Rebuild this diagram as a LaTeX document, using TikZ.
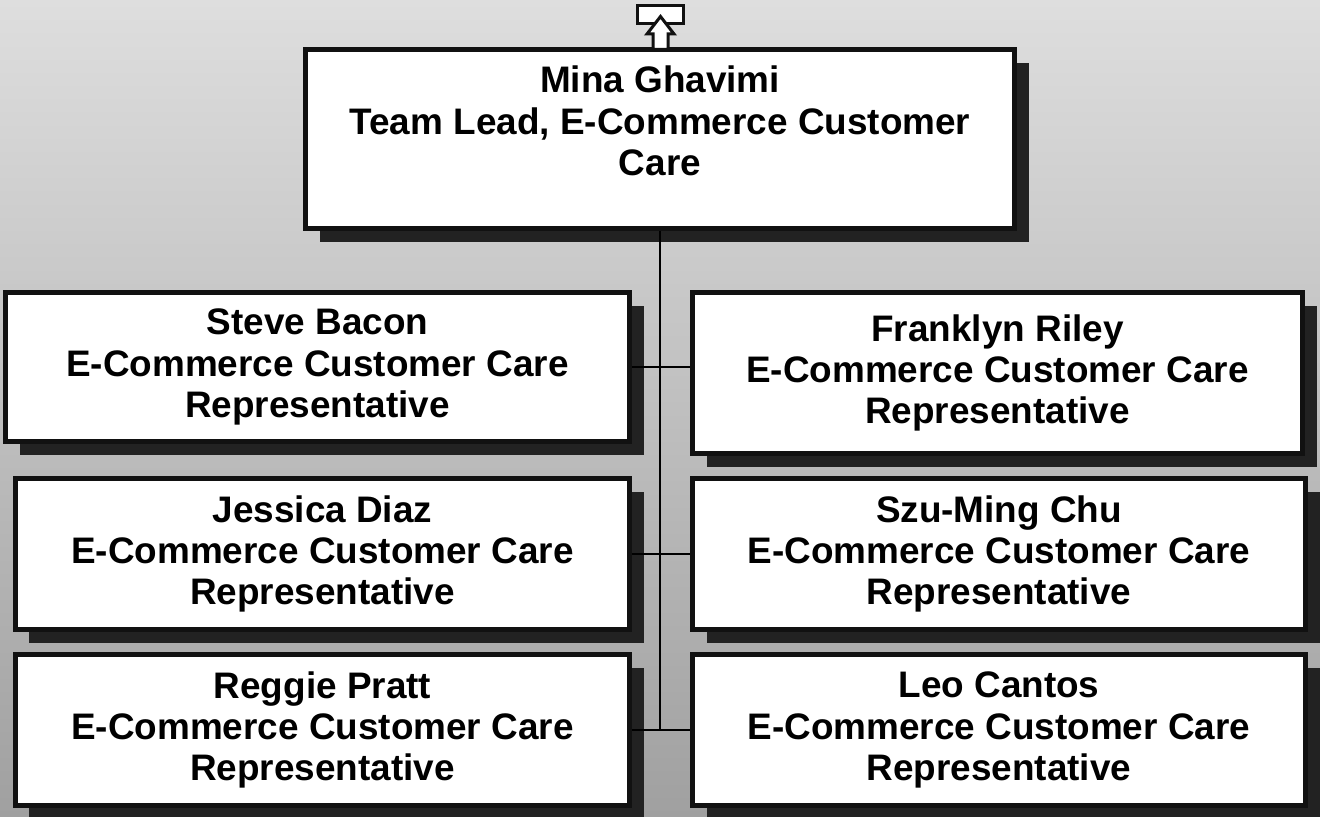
\documentclass[tikz,border=0pt]{standalone}
\usepackage{fontspec}
\setmainfont{Liberation Sans}
\usetikzlibrary{shadows}
\definecolor{bgtop}{RGB}{222,222,222}
\definecolor{bgbottom}{RGB}{160,160,160}
\definecolor{frame}{RGB}{17,17,17}
\definecolor{shade}{RGB}{34,34,34}
\tikzset{
	persontext/.style={align=center, font=\bfseries\fontsize{21}{23.5}\selectfont},
	person/.style={persontext, draw=frame, line width=0.1cm, fill=white,
		drop shadow={shadow xshift=0.28cm, shadow yshift=-0.28cm, fill=shade, opacity=1}},
	link/.style={draw=black, line width=0.05cm},
	icon/.style={draw=frame, line width=0.06cm, fill=white, line join=miter},
}
\begin{document}
\begin{tikzpicture}
	\useasboundingbox (0,0) rectangle (26.4,16.34);
	\fill[top color=bgtop, bottom color=bgbottom] (0,0) rectangle (26.4,16.34);%Hintergrund
	
	\node[person, minimum width=14.18cm, minimum height=3.58cm] (lead) at (13.2,13.56) {};
	\node[persontext] (leadname) at ([yshift=0.36cm]lead.center) {Mina Ghavimi\\Team Lead, E-Commerce Customer\\Care};
	
	\draw[icon] (12.75,15.87) rectangle (13.67,16.23);%Symbol oben
	\draw[icon] (13.06,15.35) -- (13.06,15.66) -- (12.94,15.66) -- (13.21,16.01) -- (13.48,15.66) -- (13.36,15.66) -- (13.36,15.35) -- cycle;
	
	\node[person, minimum width=12.48cm, minimum height=2.98cm] (bacon) at (6.35,9.0) {Steve Bacon\\E-Commerce Customer Care\\Representative};
	\node[person, minimum width=12.2cm, minimum height=3.22cm] (riley) at (19.95,8.88) {Franklyn Riley\\E-Commerce Customer Care\\Representative};
	\node[person, minimum width=12.28cm, minimum height=3.02cm] (diaz) at (6.45,5.26) {Jessica Diaz\\E-Commerce Customer Care\\Representative};
	\node[person, minimum width=12.26cm, minimum height=3.02cm] (chu) at (19.98,5.26) {Szu-Ming Chu\\E-Commerce Customer Care\\Representative};
	\node[person, minimum width=12.28cm, minimum height=3.02cm] (pratt) at (6.45,1.74) {Reggie Pratt\\E-Commerce Customer Care\\Representative};
	\node[person, minimum width=12.26cm, minimum height=3.02cm] (cantos) at (19.98,1.74) {Leo Cantos\\E-Commerce Customer Care\\Representative};
	
	\draw[link] (lead.south) -- (lead.south |- pratt.east);%Stamm
	\draw[link] (bacon.east) -- (bacon.east -| riley.west);
	\draw[link] (diaz.east) -- (chu.west);
	\draw[link] (pratt.east) -- (cantos.west);
\end{tikzpicture}
\end{document}
